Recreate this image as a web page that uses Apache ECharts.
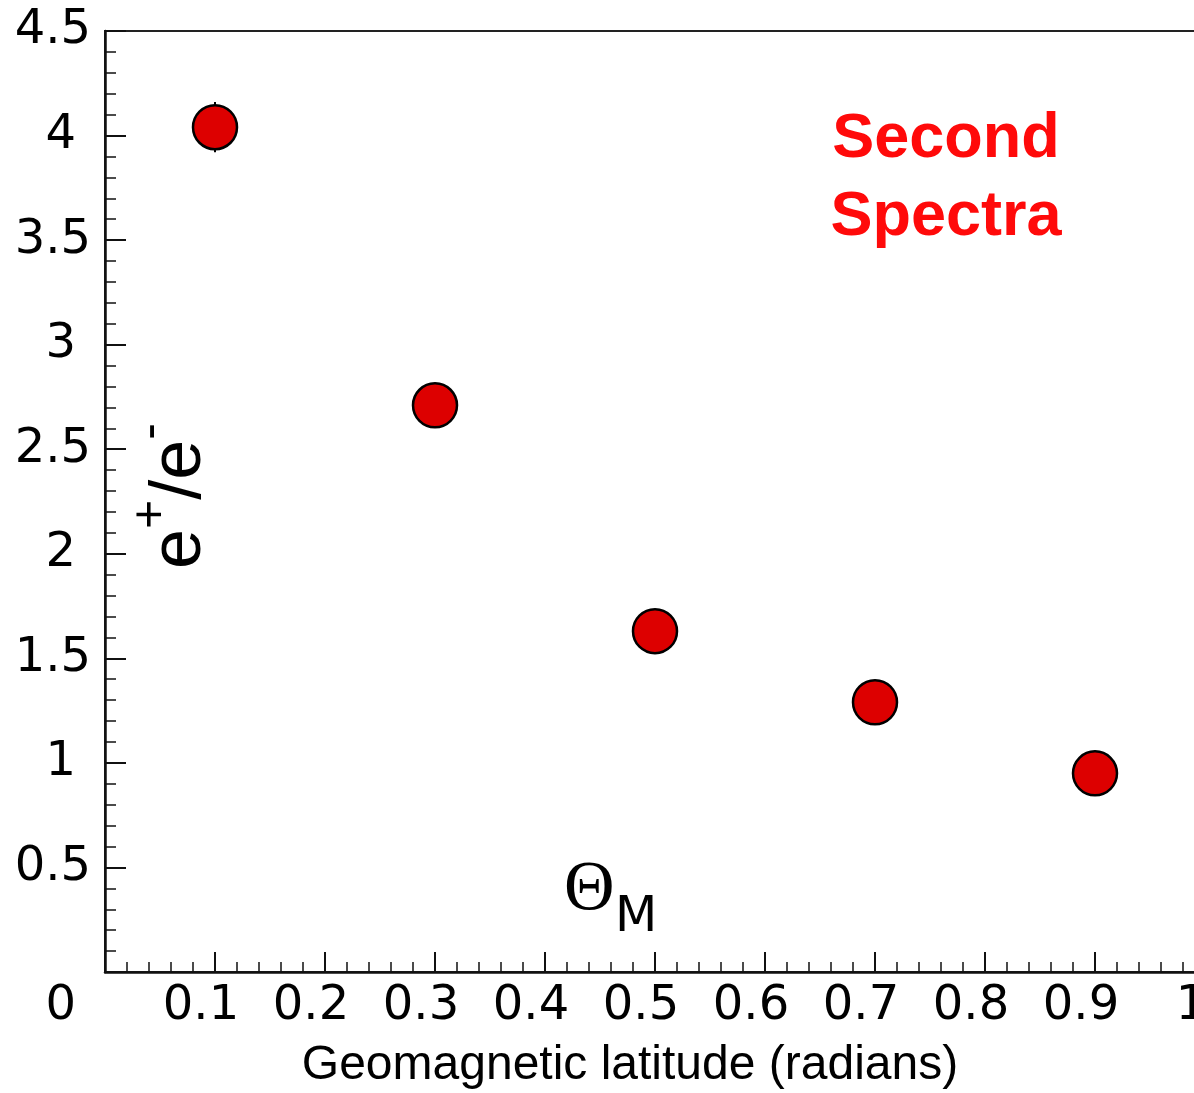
<!DOCTYPE html>
<html>
<head>
<meta charset="utf-8">
<script src="https://cdn.jsdelivr.net/npm/echarts@6/dist/echarts.min.js"></script>
<style>
  html, body { margin: 0; padding: 0; background: #fff; }
  #main { width: 1194px; height: 1093px; }
</style>
</head>
<body>
<div id="main"></div>
<script>
// values
const latitude = [0.1, 0.3, 0.5, 0.7, 0.9];
const ratio = [4.04, 2.71, 1.63, 1.29, 0.95];
const ratioErr = [0.12, 0.105, 0.085, 0.07, 0.07];

const xName = 'Geomagnetic latitude (radians)';
const yNameRich = '{e|e}{s|+}{e|/e}{s|-}';
const noteText = 'Second\nSpectra';

const FONT = 'Liberation Sans, Arial, Helvetica, sans-serif';
const TICK_FONT = 'DejaVu Sans, sans-serif';

var chartDom = document.getElementById('main');
var myChart = echarts.init(chartDom);
var option;

const points = latitude.map((x, i) => [x, ratio[i], ratioErr[i]]);

function renderErrorBar(params, api) {
    const x = api.value(0);
    const y = api.value(1);
    const e = api.value(2);
    const top = api.coord([x, y + e]);
    const bottom = api.coord([x, y - e]);
    return {
        type: 'line',
        shape: { x1: top[0], y1: top[1], x2: bottom[0], y2: bottom[1] },
        style: { stroke: '#000', lineWidth: 2 }
    };
}

option = {
    animation: false,
    backgroundColor: '#fff',
    grid: {
        left: 105,
        right: -11,
        top: 31,
        bottom: 121,
        show: true,
        borderColor: '#222',
        borderWidth: 2,
        outerBoundsMode: 'none'
    },
    xAxis: {
        type: 'value',
        min: 0,
        max: 1,
        interval: 0.1,
        name: xName,
        nameLocation: 'middle',
        nameGap: 70,
        nameTextStyle: { fontSize: 48, fontFamily: FONT, color: '#000', padding: [0, 50, 0, 0] },
        axisLine: { show: true, onZero: false, lineStyle: { color: '#111', width: 2.5 } },
        axisTick: { show: true, inside: true, length: 20, lineStyle: { color: '#111', width: 2 } },
        minorTick: { show: true, splitNumber: 5, length: 10, lineStyle: { color: '#111', width: 1.5 } },
        splitLine: { show: false },
        axisLabel: {
            fontSize: 48,
            fontFamily: TICK_FONT,
            color: '#000',
            margin: 11,
            padding: [0, 28, 0, 0],
            showMaxLabel: true,
            formatter: function (v) {
                if (v === 0) return '';
                return String(+v.toFixed(1));
            }
        }
    },
    yAxis: {
        type: 'value',
        min: 0,
        max: 4.5,
        interval: 0.5,
        axisLine: { show: true, onZero: false, lineStyle: { color: '#111', width: 2.5 } },
        axisTick: { show: true, inside: true, length: 21, lineStyle: { color: '#111', width: 2 } },
        minorTick: { show: true, splitNumber: 5, length: 11, lineStyle: { color: '#111', width: 1.5 } },
        splitLine: { show: false },
        axisLabel: {
            fontSize: 48,
            fontFamily: TICK_FONT,
            color: '#000',
            margin: 14,
            showMaxLabel: true,
            formatter: function (v) {
                if (v === 0) return '{z|0}';
                if (Number.isInteger(v)) return '{i|' + v + '}';
                return String(v);
            },
            rich: {
                z: { fontSize: 48, fontFamily: TICK_FONT, color: '#000', padding: [70, 15, 0, 0] },
                i: { fontSize: 48, fontFamily: TICK_FONT, color: '#000', padding: [0, 15, 0, 0] }
            }
        }
    },
    graphic: [
        {
            type: 'text',
            x: 171,
            y: 496,
            rotation: Math.PI / 2,
            style: {
                text: yNameRich,
                align: 'center',
                verticalAlign: 'middle',
                fill: '#000',
                rich: {
                    e: { fontSize: 72, fontFamily: FONT, fill: '#000', lineHeight: 90, verticalAlign: 'bottom' },
                    s: { fontSize: 50, fontFamily: FONT, fill: '#000', lineHeight: 50, verticalAlign: 'top' }
                }
            }
        },
        {
            // Θ with subscript M
            type: 'group',
            children: [
                {
                    type: 'text',
                    x: 564,
                    y: 891,
                    style: {
                        text: 'Θ',
                        align: 'left',
                        verticalAlign: 'middle',
                        fontSize: 70,
                        fontFamily: 'Liberation Serif, DejaVu Serif, serif',
                        fill: '#000'
                    }
                },
                {
                    type: 'text',
                    x: 615,
                    y: 918,
                    style: {
                        text: 'M',
                        align: 'left',
                        verticalAlign: 'middle',
                        fontSize: 49,
                        fontFamily: TICK_FONT,
                        fill: '#000'
                    }
                }
            ]
        },
        {
            type: 'text',
            x: 946,
            y: 179,
            style: {
                text: noteText,
                align: 'center',
                verticalAlign: 'middle',
                fontSize: 63,
                fontWeight: 'bold',
                fontFamily: FONT,
                lineHeight: 78,
                fill: '#ff0a0a'
            }
        }
    ],
    series: [
        {
            type: 'custom',
            renderItem: renderErrorBar,
            data: points,
            encode: { x: 0, y: 1 },
            z: 1,
            silent: true
        },
        {
            type: 'scatter',
            data: points,
            encode: { x: 0, y: 1 },
            symbol: 'circle',
            symbolSize: 44,
            z: 2,
            itemStyle: { color: '#dd0000', borderColor: '#000', borderWidth: 2.5, opacity: 1 }
        }
    ]
};

option && myChart.setOption(option);
</script>
</body>
</html>
